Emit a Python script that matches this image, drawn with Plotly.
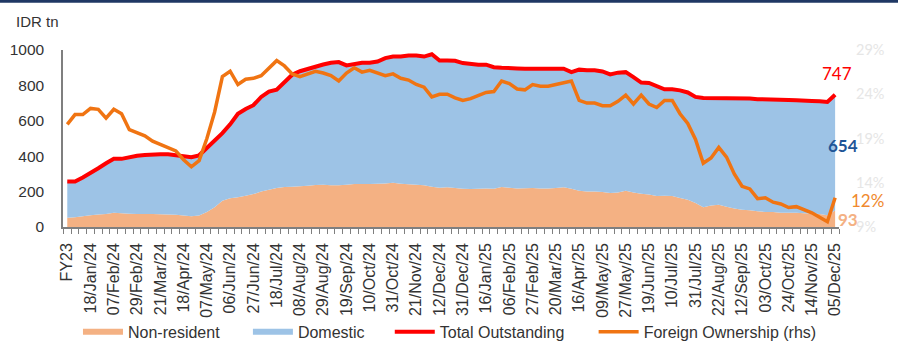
import plotly.graph_objects as go

# Weekly government bond holdings, IDR trillion (FY23 close to 05/Dec/25)
non_resident = [
    52, 55, 61, 66, 70, 74, 80, 78, 75, 74,
    74, 73, 72, 70, 69, 65, 61, 65, 85, 112,
    148, 162, 168, 176, 186, 201, 211, 220, 226, 228,
    230, 233, 237, 239, 236, 236, 239, 243, 243, 243,
    244, 246, 250, 244, 241, 239, 236, 228, 222, 224,
    220, 216, 215, 216, 218, 216, 226, 222, 218, 219,
    220, 218, 218, 220, 224, 216, 205, 201, 201, 198,
    192, 195, 205, 195, 188, 183, 175, 177, 175, 164,
    154, 136, 111, 121, 126, 115, 104, 97, 94, 89,
    85, 85, 81, 81, 80, 78, 76, 74, 66, 93,
]
domestic = [
    205, 202, 219, 238, 262, 286, 305, 307, 321, 329,
    333, 338, 339, 341, 338, 335, 333, 340, 360, 378,
    382, 418, 472, 491, 502, 534, 554, 556, 593, 632,
    650, 661, 670, 679, 692, 696, 674, 679, 685, 685,
    691, 708, 713, 719, 728, 730, 727, 748, 719, 717,
    719, 710, 705, 701, 699, 687, 674, 678, 678, 675,
    674, 676, 676, 674, 670, 659, 684, 684, 684, 681,
    670, 677, 670, 652, 628, 631, 622, 601, 603, 608,
    606, 599, 618, 608, 600, 611, 627, 632, 632, 633,
    637, 637, 637, 637, 636, 638, 636, 636, 640, 654,
]
total_outstanding = [
    257, 257, 280, 304, 332, 360, 385, 385, 396, 403,
    407, 411, 411, 411, 407, 400, 394, 405, 445, 490,
    530, 580, 640, 667, 688, 735, 765, 776, 819, 860,
    880, 894, 907, 918, 928, 932, 913, 922, 928, 928,
    935, 954, 963, 963, 969, 969, 963, 976, 941, 941,
    939, 926, 920, 917, 917, 903, 900, 900, 896, 894,
    894, 894, 894, 894, 894, 875, 889, 885, 885, 879,
    862, 872, 875, 847, 816, 814, 797, 778, 778, 772,
    760, 735, 729, 729, 726, 726, 731, 729, 726, 722,
    722, 722, 718, 718, 716, 716, 712, 710, 706, 747,
]
# Foreign ownership share, % (right-hand axis)
foreign_share = [
    20.6, 21.7, 21.7, 22.4, 22.3, 21.3, 22.3, 21.8, 20.0, 19.6,
    19.3, 18.7, 18.3, 17.9, 17.6, 16.6, 15.8, 16.5, 19.0, 22.0,
    26.0, 26.6, 25.1, 25.7, 25.8, 26.1, 26.9, 27.8, 27.2, 26.3,
    26.0, 26.3, 26.6, 26.4, 26.1, 25.5, 26.4, 27.0, 26.5, 26.7,
    26.4, 26.1, 26.3, 25.8, 25.6, 25.1, 24.8, 23.7, 24.0, 24.0,
    23.6, 23.3, 23.5, 23.9, 24.2, 24.3, 25.5, 25.2, 24.6, 24.5,
    25.1, 24.9, 24.9, 25.1, 25.3, 25.5, 23.3, 23.0, 23.0, 22.7,
    22.7, 23.2, 23.9, 22.9, 23.9, 22.9, 22.5, 23.3, 23.3, 21.8,
    20.7, 18.9, 16.2, 16.8, 18.0, 16.9, 15.0, 13.6, 13.3, 12.2,
    12.3, 11.8, 11.6, 11.2, 11.3, 11.0, 10.6, 10.1, 9.6, 12.3,
]
# Date labels shown on every third week
tick_labels = [
    "FY23", "18/Jan/24", "07/Feb/24", "29/Feb/24", "21/Mar/24", "18/Apr/24",
    "07/May/24", "06/Jun/24", "27/Jun/24", "18/Jul/24", "08/Aug/24", "29/Aug/24",
    "19/Sep/24", "10/Oct/24", "31/Oct/24", "21/Nov/24", "12/Dec/24", "31/Dec/24",
    "16/Jan/25", "06/Feb/25", "27/Feb/25", "20/Mar/25", "16/Apr/25", "09/May/25",
    "27/May/25", "19/Jun/25", "10/Jul/25", "31/Jul/25", "22/Aug/25", "12/Sep/25",
    "03/Oct/25", "24/Oct/25", "14/Nov/25", "05/Dec/25",
]
left_ticks = [0, 200, 400, 600, 800, 1000]
right_ticks = [9, 14, 19, 24, 29]

x = list(range(len(total_outstanding)))
last = len(x) - 1

C_NONRES = "#F4B183"
C_DOM = "#9DC3E6"
C_TOTAL = "#FF0000"
C_FOREIGN = "#F07412"
TXT = "#333333"
AXFONT = "Liberation Sans, Arial, sans-serif"
LBLFONT = "Lato, sans-serif"

fig = go.Figure()
fig.add_trace(go.Scatter(
    x=x, y=non_resident, name="Non-resident", stackgroup="one",
    mode="none", fillcolor=C_NONRES, line=dict(width=0), legend="legend",
))
fig.add_trace(go.Scatter(
    x=x, y=domestic, name="Domestic", stackgroup="one",
    mode="none", fillcolor=C_DOM, line=dict(width=0), legend="legend2",
))
fig.add_trace(go.Scatter(
    x=x, y=total_outstanding, name="Total Outstanding", mode="lines",
    line=dict(color=C_TOTAL, width=4), legend="legend3",
))
fig.add_trace(go.Scatter(
    x=x, y=foreign_share, name="Foreign Ownership (rhs)", mode="lines",
    line=dict(color=C_FOREIGN, width=3.5), yaxis="y2", legend="legend4",
))

# End-of-period value labels
fig.add_annotation(x=last, y=total_outstanding[-1], text=str(total_outstanding[-1]),
                   showarrow=False, xshift=2, yshift=21,
                   font=dict(family=LBLFONT, size=17, color=C_TOTAL))
fig.add_annotation(x=last, y=non_resident[-1] + domestic[-1] / 2 + 40, text=str(domestic[-1]),
                   showarrow=False, xshift=8,
                   font=dict(family=LBLFONT, size=17, color="#1F5597", weight="bold"))
fig.add_annotation(x=last, y=foreign_share[-1], yref="y2", text=f"{round(foreign_share[-1])}%",
                   showarrow=False, xshift=32, yshift=-3,
                   font=dict(family=LBLFONT, size=17, color="#F0892E"))
fig.add_annotation(x=last, y=non_resident[-1], text=str(non_resident[-1]),
                   showarrow=False, xshift=13, yshift=-9,
                   font=dict(family=LBLFONT, size=17, color=C_NONRES, weight="bold"))

# Unit label
fig.add_annotation(x=0, xref="paper", xshift=-49, xanchor="left",
                   y=1.160, yref="paper", yanchor="middle", text="IDR tn", showarrow=False,
                   font=dict(family=AXFONT, size=15, color=TXT))

# Navy rule along the top edge
fig.add_shape(type="rect", xref="paper", yref="paper", x0=-0.1, x1=1.1,
              y0=1.267, y1=1.3, fillcolor="#1F3864", line=dict(width=0), layer="above")

legend_style = dict(orientation="h", y=-0.593, yanchor="middle", xanchor="left",
                    font=dict(family=AXFONT, size=16, color=TXT),
                    itemwidth=40, bgcolor="rgba(0,0,0,0)")

fig.update_layout(
    width=898, height=343,
    margin=dict(l=62.5, r=59, t=49.5, b=115.5, autoexpand=False),
    paper_bgcolor="white", plot_bgcolor="white",
    showlegend=True,
    legend=dict(legend_style, x=0.0193),
    legend2=dict(legend_style, x=0.2383),
    legend3=dict(legend_style, x=0.4211),
    legend4=dict(legend_style, x=0.6838),
    xaxis=dict(
        range=[-0.55, 99.5], tickmode="array",
        tickvals=list(range(0, len(x), 3)), ticktext=tick_labels,
        tickangle=-90, ticks="", showgrid=False, zeroline=False, automargin=False,
        showline=True, linecolor="#7F7F7F", linewidth=1.5,
        tickfont=dict(family=AXFONT, size=16, color=TXT),
        ticklabelstandoff=8,
        minor=dict(tickmode="linear", tick0=-0.5, dtick=1, ticks="outside",
                   ticklen=5, tickcolor="#7F7F7F", tickwidth=1, showgrid=False),
    ),
    yaxis=dict(
        range=[0, 1000], tickvals=left_ticks, showgrid=False, zeroline=False,
        showline=True, linecolor="#7F7F7F", linewidth=1.5, ticks="", automargin=False,
        tickfont=dict(family=AXFONT, size=15.5, color=TXT), ticklabelstandoff=14,
    ),
    yaxis2=dict(
        range=[9, 29], tickmode="array", tickvals=right_ticks,
        ticktext=[f"{v}%" for v in right_ticks], overlaying="y", automargin=False,
        side="right", showgrid=False, zeroline=False, showline=False, ticks="",
        tickfont=dict(family=LBLFONT, size=14.5, color="#E6E6E6"), ticklabelstandoff=16,
    ),
)

fig.write_html("out.html")
